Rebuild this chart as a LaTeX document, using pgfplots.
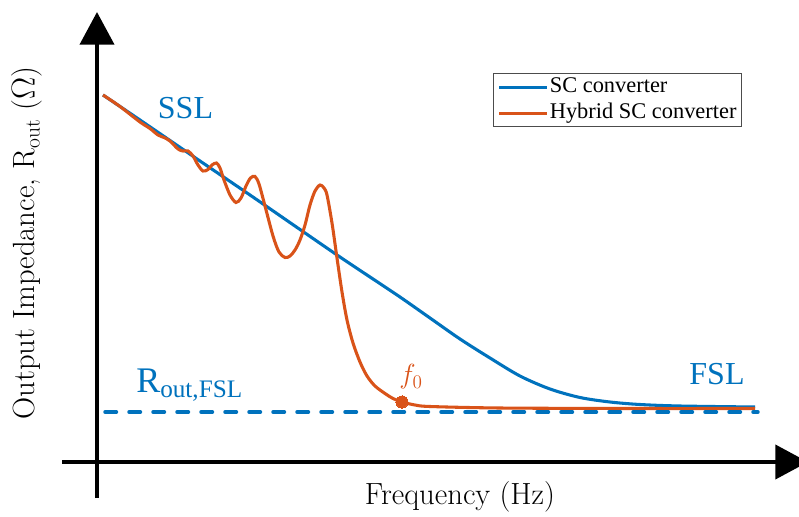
\documentclass[border=0pt]{standalone}
\usepackage{fontspec}
\usepackage{pgfplots}
\pgfplotsset{compat=1.18}
\usetikzlibrary{arrows.meta}
\newfontfamily\tnr{Liberation Serif}
\definecolor{scblue}{HTML}{0072BD}
\definecolor{hyorange}{HTML}{D95319}

\begin{document}
\begin{tikzpicture}
\useasboundingbox (0,0) rectangle (599.25pt,387.75pt);
\begin{axis}[
    x=0.75pt, y=0.75pt, y dir=reverse,
    xmin=0, xmax=799, ymin=0, ymax=517,
    hide axis, clip=false,
    legend cell align=left,
    legend image code/.code={\draw[#1, line width=2.3pt] (0pt,0pt) -- (36pt,0pt);},
    legend style={at={(axis cs:493,73)}, anchor=north west,
        draw=black!70, line width=0.7pt,
        font=\tnr\fontsize{16.8}{18}\selectfont,
        inner xsep=3pt, inner ysep=1pt,
        nodes={inner sep=1pt, text height=12.5pt, text depth=4pt}, row sep=1pt},
]
% SC converter
\addplot[scblue, line width=2.3pt, smooth] coordinates {
 (103,95) (140,120) (200,161) (250,195) (300,229.5) (340,257) (370,277)
 (400,297) (430,318) (460,339) (490,358) (520,376) (550,389) (580,397.5)
 (610,402) (640,404.5) (680,406) (755,407)
};
% hybrid SC converter
\addplot[hyorange, line width=2.3pt, smooth] coordinates {
 (103,95) (120,106.5) (140,122) (150,128.5) (158,135) (164,137.5) (170,141)
 (178,149) (183,151) (188,151) (193,156) (198,165) (203,171) (208,169.5)
 (212,165) (216.5,163) (220,168) (224,180) (230,195) (236,202.5) (241,198)
 (246,186) (250.5,178) (255,176.5) (259,184) (265,206) (273,236) (279,252)
 (285,257.5) (290,256) (295,250) (300,240) (305,225) (310,205) (315,191)
 (320,185) (324,188) (327,195) (332,223) (337,258) (342,292) (347,320)
 (353,343) (360,362) (367,376) (375,386) (385,393.5) (393,398.5) (402,402)
 (415,405) (430,406.5) (500,408) (630,408.5) (755,408.5)
};
\legend{SC converter, Hybrid SC converter}
% R_out,FSL level
\addplot[forget plot, scblue, line width=2.6pt, line cap=round,
    dash pattern=on 8.6pt off 9.4pt] coordinates {(105,412) (758,412)};
% f0 point
\addplot[forget plot, only marks, mark=*, mark size=4.6pt,
    mark options={fill=hyorange, draw=hyorange, line width=0pt}]
    coordinates {(402,402)};
% axes
\addplot[forget plot, black, line width=3pt,
    -{Triangle[length=24.5pt, width=25.5pt]}] coordinates {(62,462) (808,462)};
\addplot[forget plot, black, line width=3pt,
    -{Triangle[length=24.5pt, width=25.5pt]}] coordinates {(97,498) (97,12)};

\node[text=scblue, font=\tnr\fontsize{24}{26}\selectfont] at (axis cs:185.5,108) {SSL};
\node[text=scblue, font=\tnr\fontsize{24}{26}\selectfont] at (axis cs:717,374) {FSL};
\node[text=scblue, font=\tnr\fontsize{27}{29}\selectfont, anchor=base west, inner sep=0pt]
    at (axis cs:136,392) {R\textsubscript{out,FSL}};
\node[text=hyorange, font=\fontsize{20}{22}\selectfont] at (axis cs:411,377) {$f_0$};
\node[font=\fontsize{23}{25}\selectfont] at (axis cs:460,497) {Frequency (Hz)};
\node[rotate=90, font=\fontsize{23}{25}\selectfont] at (axis cs:27,243)
    {Output Impedance, R\textsubscript{out} ($\Omega$)};
\end{axis}
\end{tikzpicture}
\end{document}
